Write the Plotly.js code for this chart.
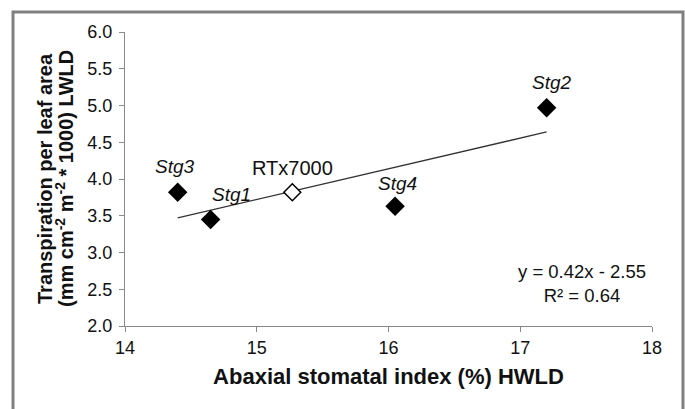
<!DOCTYPE html>
<html>
<head>
<meta charset="utf-8">
<script src="https://cdn.plot.ly/plotly-3.0.1.min.js"></script>
<style>html,body{margin:0;padding:0;background:#fff;}#chart{width:685px;height:409px;}</style>
</head>
<body>
<div id="chart"></div>
<script>
// Data
const lines = ["Stg1", "Stg2", "Stg3", "Stg4", "RTx7000"];
const stomatalIndex = [14.65, 17.20, 14.40, 16.05, 15.27];
const transpiration = [3.45, 4.97, 3.82, 3.63, 3.82];
const italicLabel = [true, true, true, true, false];
const openMarker = [false, false, false, false, true];
const trendX = [14.40, 17.20];
const trendY = [3.47, 4.64];
const equationText = "y = 0.42x - 2.55<br>R\u00b2 = 0.64";
const xTicks = [14, 15, 16, 17, 18];
const xTickText = ["14", "15", "16", "17", "18"];
const yTicks = [2, 2.5, 3, 3.5, 4, 4.5, 5, 5.5, 6];
const yTickText = ["2.0", "2.5", "3.0", "3.5", "4.0", "4.5", "5.0", "5.5", "6.0"];
const xTitle = "Abaxial stomatal index (%) HWLD";
const yTitleLine1 = "Transpiration per leaf area";
const yTitleLine2 = "(mm cm<sup>-2</sup> m<sup>-2</sup> * 1000) LWLD";
const labelShiftX = [21, 5, -3, 2, 0];
const labelShiftY = [25, 25, 26, 23, 24];

const font = "Liberation Sans, Arial, sans-serif";
const ink = "#111111";

const filledIdx = lines.map((_, i) => i).filter(i => !openMarker[i]);
const openIdx = lines.map((_, i) => i).filter(i => openMarker[i]);

const traces = [
  {
    x: trendX, y: trendY, mode: "lines", type: "scatter",
    line: {color: "#333333", width: 1.3}, hoverinfo: "skip", showlegend: false
  },
  {
    x: filledIdx.map(i => stomatalIndex[i]), y: filledIdx.map(i => transpiration[i]),
    mode: "markers", type: "scatter", showlegend: false,
    marker: {symbol: "diamond", size: 15, color: "#000000", line: {width: 0}}
  },
  {
    x: openIdx.map(i => stomatalIndex[i]), y: openIdx.map(i => transpiration[i]),
    mode: "markers", type: "scatter", showlegend: false,
    marker: {symbol: "diamond", size: 13, color: "#ffffff", line: {width: 1.5, color: "#000000"}}
  }
];

const annotations = lines.map((name, i) => ({
  x: stomatalIndex[i], y: transpiration[i], xref: "x", yref: "y",
  text: italicLabel[i] ? "<i>" + name + "</i>" : name,
  showarrow: false, xshift: labelShiftX[i], yshift: labelShiftY[i],
  xanchor: "center", yanchor: "middle",
  font: {family: font, size: italicLabel[i] ? 19 : 20, color: ink}
}));
annotations.push({
  x: 0.867, y: 0.146, xref: "paper", yref: "paper",
  xanchor: "center", yanchor: "middle",
  text: equationText, showarrow: false, align: "center",
  font: {family: font, size: 18.5, color: ink}
});
annotations.push({
  x: -0.1518, y: 0.5, xref: "paper", yref: "paper", textangle: -90,
  xanchor: "center", yanchor: "middle",
  text: "<b>" + yTitleLine1 + "</b>", showarrow: false,
  font: {family: font, size: 20, color: ink}
});
annotations.push({
  x: -0.1157, y: 0.5, xref: "paper", yref: "paper", textangle: -90,
  xanchor: "center", yanchor: "middle",
  text: "<b>" + yTitleLine2 + "</b>", showarrow: false,
  font: {family: font, size: 20, color: ink}
});

const layout = {
  width: 685, height: 409,
  margin: {l: 125, r: 33, t: 32, b: 83},
  paper_bgcolor: "#ffffff", plot_bgcolor: "#ffffff",
  showlegend: false,
  font: {family: font, color: ink},
  xaxis: {
    range: [14, 18], tickvals: xTicks, ticktext: xTickText,
    showgrid: false, zeroline: false, showline: true, linecolor: "#8a8a8a", linewidth: 1,
    ticks: "outside", ticklen: 5, tickcolor: "#8a8a8a",
    tickfont: {family: font, size: 18, color: ink},
    title: {text: "<b>" + xTitle + "</b>", font: {family: font, size: 22, color: ink}, standoff: 12}
  },
  yaxis: {
    range: [2, 6], tickvals: yTicks, ticktext: yTickText,
    showgrid: false, zeroline: false, showline: true, linecolor: "#8a8a8a", linewidth: 1,
    ticks: "outside", ticklen: 5, tickcolor: "#8a8a8a", ticklabelstandoff: 3,
    tickfont: {family: font, size: 18, color: ink}
  },
  shapes: [{
    type: "rect", xref: "paper", yref: "paper",
    x0: -0.2125, x1: 1.0588, y0: -0.32, y1: 1.068,
    line: {color: "#808080", width: 3}, fillcolor: "rgba(0,0,0,0)", layer: "below"
  }],
  annotations: annotations
};

Plotly.newPlot("chart", traces, layout, {displayModeBar: false, staticPlot: true});
</script>
</body>
</html>
